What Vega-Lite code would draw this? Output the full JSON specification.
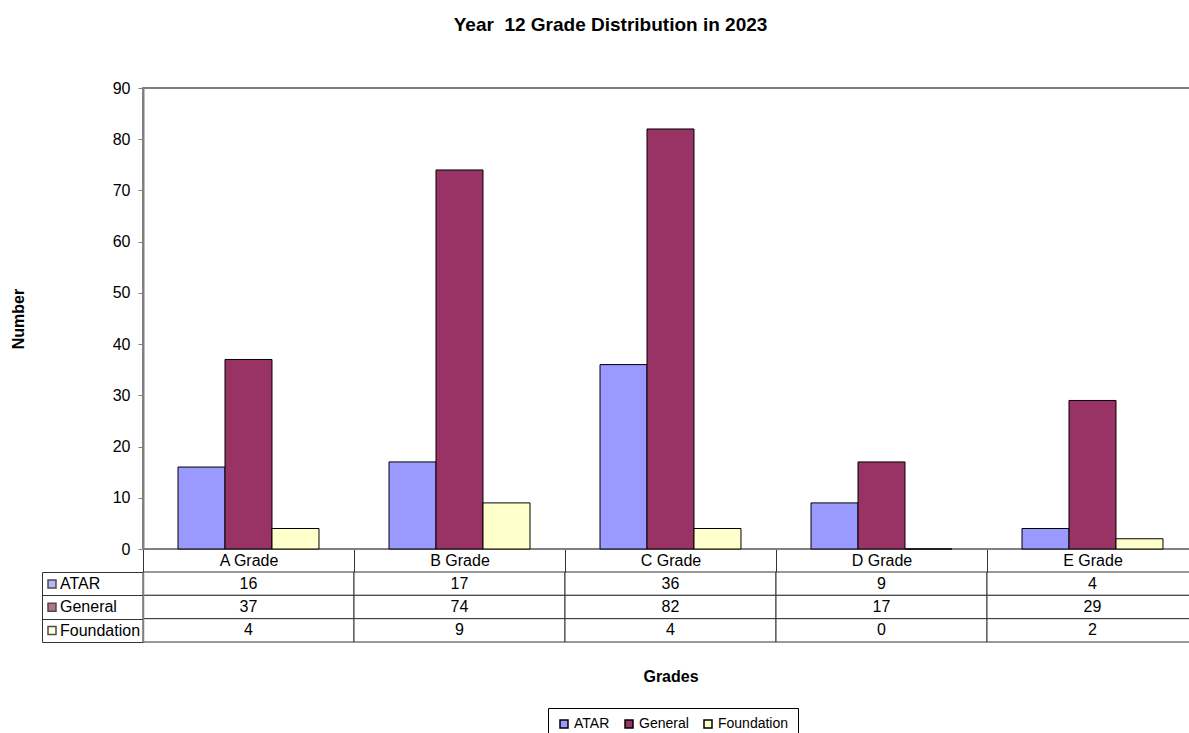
{
  "$schema": "https://vega.github.io/schema/vega-lite/v6.json",
  "padding": {"left": 9, "top": 16, "right": 0, "bottom": 0},
  "title": {
    "text": "Year\u00a0 12 Grade Distribution in 2023",
    "fontSize": 19,
    "fontWeight": "bold",
    "color": "black",
    "anchor": "middle",
    "offset": 44,
    "dx": -29
  },
  "datasets": {
    "grades": [
      {"grade": "A Grade", "series": "ATAR", "value": 16},
      {"grade": "A Grade", "series": "General", "value": 37},
      {"grade": "A Grade", "series": "Foundation", "value": 4},
      {"grade": "B Grade", "series": "ATAR", "value": 17},
      {"grade": "B Grade", "series": "General", "value": 74},
      {"grade": "B Grade", "series": "Foundation", "value": 9},
      {"grade": "C Grade", "series": "ATAR", "value": 36},
      {"grade": "C Grade", "series": "General", "value": 82},
      {"grade": "C Grade", "series": "Foundation", "value": 4},
      {"grade": "D Grade", "series": "ATAR", "value": 9},
      {"grade": "D Grade", "series": "General", "value": 17},
      {"grade": "D Grade", "series": "Foundation", "value": 0},
      {"grade": "E Grade", "series": "ATAR", "value": 4},
      {"grade": "E Grade", "series": "General", "value": 29},
      {"grade": "E Grade", "series": "Foundation", "value": 2}
    ]
  },
  "config": {
    "font": "Liberation Sans",
    "view": {"stroke": "#808080", "strokeWidth": 2},
    "axis": {"labelColor": "black", "titleColor": "black", "grid": false}
  },
  "bounds": "flush",
  "spacing": 23,
  "resolve": {"scale": {"fill": "independent"}, "legend": {"fill": "independent"}},
  "vconcat": [
    {
      "width": 1055,
      "height": 461,
      "data": {"name": "grades"},
      "mark": {"type": "bar", "stroke": "black", "strokeWidth": 1},
      "encoding": {
        "x": {
          "field": "grade",
          "type": "nominal",
          "scale": {"paddingInner": 0, "paddingOuter": 0},
          "axis": {
            "title": null,
            "labelAngle": 0,
            "labelFontSize": 16,
            "labelBaseline": "middle",
            "labelPadding": -11.5,
            "tickBand": "extent",
            "tickExtra": true,
            "tickSize": 23,
            "tickColor": "#333333",
            "domainColor": "#808080"
          }
        },
        "xOffset": {
          "field": "series",
          "type": "nominal",
          "sort": ["ATAR", "General", "Foundation"],
          "scale": {"paddingInner": 0, "paddingOuter": 0.745}
        },
        "y": {
          "field": "value",
          "type": "quantitative",
          "scale": {"domain": [0, 90], "nice": false},
          "axis": {
            "values": [0, 10, 20, 30, 40, 50, 60, 70, 80, 90],
            "title": "Number",
            "titleX": -125,
            "titleY": 230.5,
            "titleAngle": -90,
            "titleBaseline": "middle",
            "titleAlign": "center",
            "titleFontSize": 16,
            "titleFontWeight": "bold",
            "labelFontSize": 16,
            "labelPadding": 8,
            "tickSize": 5,
            "tickColor": "#808080",
            "domainColor": "#808080",
            "domainWidth": 2
          }
        },
        "fill": {
          "field": "series",
          "type": "nominal",
          "scale": {
            "domain": ["ATAR", "General", "Foundation"],
            "range": ["#9999FF", "#993366", "#FFFFCC"]
          },
          "legend": {
            "title": null,
            "orient": "none",
            "legendX": 405,
            "legendY": 620,
            "direction": "horizontal",
            "strokeColor": "black",
            "padding": 9,
            "symbolType": "square",
            "symbolSize": 64,
            "labelFontSize": 14,
            "labelOffset": 3,
            "columnPadding": 12,
            "labelColor": "black",
            "encode": {"symbols": {"update": {"stroke": {"value": "black"}, "strokeWidth": {"value": 1}}}}
          }
        }
      }
    },
    {
      "width": 1055,
      "height": 70,
      "view": {"stroke": null},
      "data": {"name": "grades"},
      "layer": [
        {
          "mark": {"type": "rect", "fill": "white", "stroke": "#333333", "strokeWidth": 1},
          "encoding": {
            "x": {
              "field": "grade",
              "type": "nominal",
              "scale": {"paddingInner": 0, "paddingOuter": 0},
              "axis": {
                "title": "Grades",
                "labels": false,
                "ticks": false,
                "domain": false,
                "titleFontSize": 16,
                "titleFontWeight": "bold",
                "titlePadding": 26
              }
            },
            "y": {
              "field": "series",
              "type": "nominal",
              "sort": ["ATAR", "General", "Foundation"],
              "scale": {"paddingInner": 0, "paddingOuter": 0},
              "axis": {
                "title": null,
                "labels": false,
                "tickBand": "extent",
                "tickExtra": true,
                "tickSize": 101,
                "tickColor": "#333333",
                "domainColor": "#808080",
                "domainWidth": 1.5
              }
            }
          }
        },
        {
          "mark": {"type": "text", "fontSize": 16, "color": "black"},
          "encoding": {
            "x": {"field": "grade", "type": "nominal"},
            "y": {"field": "series", "type": "nominal", "sort": ["ATAR", "General", "Foundation"]},
            "text": {"field": "value", "type": "quantitative"}
          }
        },
        {
          "transform": [{"filter": "datum.value < 0"}],
          "mark": {"type": "square", "stroke": "black"},
          "encoding": {
            "x": {"field": "grade", "type": "nominal"},
            "y": {
              "field": "series",
              "type": "nominal",
              "sort": ["ATAR", "General", "Foundation"],
              "axis": {
                "orient": "left",
                "offset": 101,
                "title": null,
                "labels": false,
                "ticks": false,
                "domainColor": "#333333",
                "domainWidth": 1
              }
            },
            "fill": {
              "field": "series",
              "type": "nominal",
              "scale": {
                "domain": ["ATAR", "General", "Foundation"],
                "range": ["#9999FF", "#993366", "#FFFFCC"]
              },
              "legend": {
                "title": null,
                "orient": "none",
                "legendX": -99,
                "legendY": 4,
                "direction": "vertical",
                "padding": 0,
                "symbolType": "square",
                "symbolSize": 64,
                "labelFontSize": 16,
                "labelOffset": 0,
                "rowPadding": 7.3,
                "labelColor": "black",
                "encode": {"symbols": {"update": {"stroke": {"value": "black"}, "strokeWidth": {"value": 1}}}}
              }
            }
          }
        }
      ],
      "resolve": {"axis": {"y": "independent"}}
    }
  ]
}
